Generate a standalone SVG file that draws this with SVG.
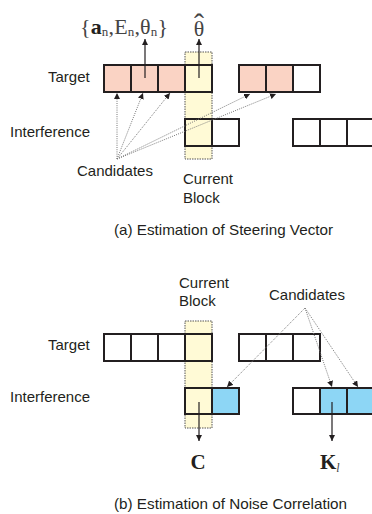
<svg xmlns="http://www.w3.org/2000/svg" width="372" height="514" viewBox="0 0 372 514">
<style>
.lbl{font-family:"Liberation Sans",Arial,sans-serif;font-size:15px;fill:#231f20}
.cell{stroke:#231f20;stroke-width:2}
.pink{fill:#fad3c4}
.white{fill:#ffffff}
.yel{fill:#fffad6}
.blue{fill:#8dd6f5}
.col{fill:#fffad6;stroke:#555;stroke-width:1;stroke-dasharray:1.5,1}
.dot{stroke:#777;stroke-width:1;stroke-dasharray:1,1.2;fill:none}
.solid{stroke:#231f20;stroke-width:1.2;fill:none}
.math{font-family:"Liberation Serif","Times New Roman",serif;fill:#444}
</style>
<defs>
<marker id="ah" viewBox="0 0 8 8" refX="8" refY="4" markerWidth="6" markerHeight="6" orient="auto" markerUnits="userSpaceOnUse">
<path d="M0,0 L8,4 L0,8 z" fill="#231f20"/>
</marker>
</defs>
<rect width="372" height="514" fill="#ffffff"/>

<!-- Part (a) -->
<g id="a-labels">
<text class="lbl" x="48" y="82">Target</text>
<text class="lbl" x="10" y="137">Interference</text>
<text class="lbl" x="77" y="176">Candidates</text>
<text class="lbl" x="183" y="184">Current</text>
<text class="lbl" x="183" y="203">Block</text>
<text class="lbl" x="114" y="235" textLength="219" lengthAdjust="spacingAndGlyphs">(a) Estimation of Steering Vector</text>
</g>
<g id="a-params">
<text class="math" x="80" y="34" font-size="22" textLength="88" lengthAdjust="spacing">{<tspan font-weight="bold" fill="#231f20">a</tspan><tspan font-size="13" dy="2">n</tspan><tspan dy="-2">,E</tspan><tspan font-size="13" dy="2">n</tspan><tspan dy="-2">,θ</tspan><tspan font-size="13" dy="2">n</tspan><tspan dy="-2">}</tspan></text>
</g>
<g id="a-thetahat">
<text class="math" x="199" y="36" font-size="22" text-anchor="middle">θ<tspan x="199" y="34" font-size="30">ˆ</tspan></text>
</g>
<g id="a-column">
<rect class="col" x="185" y="52" width="27" height="107"/>
</g>
<g id="a-target">
<rect class="cell pink" x="104" y="65" width="27" height="27"/>
<rect class="cell pink" x="131" y="65" width="27" height="27"/>
<rect class="cell pink" x="158" y="65" width="27" height="27"/>
<rect class="cell yel" x="185" y="65" width="27" height="27"/>
<rect class="cell pink" x="239" y="65" width="27" height="27"/>
<rect class="cell pink" x="266" y="65" width="27" height="27"/>
<rect class="cell white" x="293" y="65" width="27" height="27"/>
</g>
<g id="a-interference">
<rect class="cell yel" x="185" y="119" width="27" height="27"/>
<rect class="cell white" x="212" y="119" width="27" height="27"/>
<rect class="cell white" x="293" y="119" width="27" height="27"/>
<rect class="cell white" x="320" y="119" width="27" height="27"/>
<rect class="cell white" x="347" y="119" width="27" height="27"/>
</g>
<g id="a-connectors">
<line class="solid" x1="145" y1="78" x2="145" y2="39" marker-end="url(#ah)"/>
<line class="solid" x1="199" y1="78" x2="199" y2="39" stroke="#666" marker-end="url(#ah)"/>
<line class="dot" x1="117" y1="159" x2="117" y2="93" marker-end="url(#ah)"/>
<line class="dot" x1="117" y1="159" x2="143" y2="93" marker-end="url(#ah)"/>
<line class="dot" x1="117" y1="159" x2="170" y2="93" marker-end="url(#ah)"/>
<line class="dot" x1="117" y1="159" x2="250" y2="94" marker-end="url(#ah)"/>
<line class="dot" x1="117" y1="159" x2="276" y2="94" marker-end="url(#ah)"/>
</g>

<!-- Part (b) -->
<g id="b-labels">
<text class="lbl" x="179" y="288">Current</text>
<text class="lbl" x="179" y="306">Block</text>
<text class="lbl" x="269" y="300">Candidates</text>
<text class="lbl" x="48" y="350">Target</text>
<text class="lbl" x="10" y="402">Interference</text>
<text class="lbl" x="114" y="509" textLength="233" lengthAdjust="spacingAndGlyphs">(b) Estimation of Noise Correlation</text>
</g>
<g id="b-column">
<rect class="col" x="185" y="321" width="27" height="107"/>
</g>
<g id="b-target">
<rect class="cell white" x="104" y="334" width="27" height="27"/>
<rect class="cell white" x="131" y="334" width="27" height="27"/>
<rect class="cell white" x="158" y="334" width="27" height="27"/>
<rect class="cell yel" x="185" y="334" width="27" height="27"/>
<rect class="cell white" x="239" y="334" width="27" height="27"/>
<rect class="cell white" x="266" y="334" width="27" height="27"/>
<rect class="cell white" x="293" y="334" width="27" height="27"/>
</g>
<g id="b-interference">
<rect class="cell yel" x="185" y="388" width="27" height="26"/>
<rect class="cell blue" x="212" y="388" width="27" height="26"/>
<rect class="cell white" x="293" y="388" width="27" height="26"/>
<rect class="cell blue" x="320" y="388" width="27" height="26"/>
<rect class="cell blue" x="347" y="388" width="27" height="26"/>
</g>
<g id="b-C">
<text x="198" y="469" font-family="'Liberation Serif','Times New Roman',serif" font-weight="bold" font-size="21" fill="#231f20" text-anchor="middle">C</text>
</g>
<g id="b-K">
<text x="320" y="469" font-family="'Liberation Serif','Times New Roman',serif" font-weight="bold" font-size="21" fill="#231f20">K<tspan font-weight="normal" font-style="italic" font-size="12" dy="3" fill="#444">l</tspan></text>
</g>
<g id="b-connectors">
<line class="dot" x1="305" y1="308" x2="227" y2="387" marker-end="url(#ah)"/>
<line class="dot" x1="305" y1="308" x2="332" y2="387" marker-end="url(#ah)"/>
<line class="dot" x1="305" y1="308" x2="358" y2="387" marker-end="url(#ah)"/>
<line class="solid" x1="199" y1="402" x2="199" y2="441" marker-end="url(#ah)"/>
<line class="solid" x1="332" y1="402" x2="332" y2="441" marker-end="url(#ah)"/>
</g>
</svg>
